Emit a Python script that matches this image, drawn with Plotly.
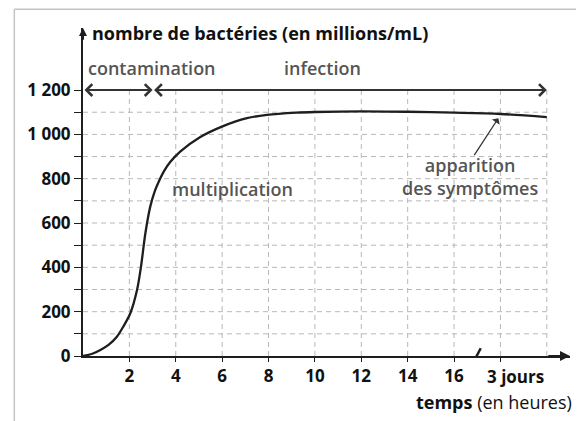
import plotly.graph_objects as go

# ---- data ----
hours = [0, 0.4, 0.75, 1.1, 1.46, 1.75, 2.04, 2.33, 2.5, 2.69, 2.9, 3.1, 3.26, 3.5, 3.76, 4.19,
         5.06, 5.99, 7.07, 7.93, 9.2, 10, 12, 14, 16, 18, 20]
bacteria = [0, 10, 27, 50, 87, 135, 193, 298, 403, 554, 674, 745, 785, 835, 875, 922,
            988, 1035, 1073, 1088, 1098, 1101, 1104, 1102, 1098, 1092, 1078]

x_tick_vals = [2, 4, 6, 8, 10, 12, 14, 16, 18]
x_tick_text = ["2", "4", "6", "8", "10", "12", "14", "16", ""]
day_tick = 18
day_label = "3 jours"
y_tick_vals = [0, 200, 400, 600, 800, 1000, 1200]
y_tick_text = ["0", "200", "400", "600", "800", "1 000", "1 200"]
y_minor_vals = [100, 300, 500, 700, 900, 1100]

grid_x = [2, 4, 6, 8, 10, 12, 14, 16, 18, 20]
grid_y = [100, 200, 300, 400, 500, 600, 700, 800, 900, 1000, 1100]

phase_names = ["contamination", "infection"]
phase_start = [0, 3]
phase_end = [3, 20]
phase_label_x = [2.99, 10.34]
phase_level = 1200
phase_label_y = 1300

X_MAX = 21
Y_MAX = 1480

# ---- layout geometry (page has an 8px body margin) ----
PX_X = 23.2      # px per hour
PX_Y = 0.2215    # px per unit
ORIG_X = 82.7    # target x pixel of x=0
ORIG_Y = 356.0   # target y pixel of y=0
BODY = 8
W = X_MAX * PX_X
H = Y_MAX * PX_Y
L = ORIG_X - BODY
T = ORIG_Y - H - BODY
B = 421 - (ORIG_Y - BODY)
R = 584 - L - W


def px_x(p):
    return (p - ORIG_X) / W


def px_y(p):
    return (ORIG_Y - p) / H


FONT = "Open Sans"
DARK = "#1e1e1e"
GREY_TXT = "#555555"
GRID = "#b8b8b8"

fig = go.Figure()

fig.add_trace(go.Scatter(
    x=hours, y=bacteria, mode="lines",
    line=dict(color=DARK, width=2.3, shape="spline", smoothing=0.9),
    hoverinfo="skip", showlegend=False,
))

shapes = []
for gx in grid_x:
    shapes.append(dict(type="line", xref="x", yref="y", x0=gx, x1=gx, y0=0, y1=phase_level,
                       line=dict(color=GRID, width=1, dash="5px,4px"), layer="below"))
for gy in grid_y:
    shapes.append(dict(type="line", xref="x", yref="y", x0=0, x1=grid_x[-1], y0=gy, y1=gy,
                       line=dict(color=GRID, width=1, dash="5px,4px"), layer="below"))
# axis break mark
shapes.append(dict(type="line", xref="x", yref="y", x0=16.8, x1=17.15, y0=-35, y1=35,
                   line=dict(color=DARK, width=2.5)))
# outer frame (left, top, right)
fx0, fx1, fy1, fy0 = px_x(14), px_x(578), px_y(9.5), px_y(440)
frame_col = dict(color="#c4c4c4", width=1.5)
shapes.append(dict(type="line", xref="paper", yref="paper", x0=fx0, x1=fx0, y0=fy0, y1=fy1, line=frame_col))
shapes.append(dict(type="line", xref="paper", yref="paper", x0=fx0, x1=fx1, y0=fy1, y1=fy1, line=frame_col))
shapes.append(dict(type="line", xref="paper", yref="paper", x0=fx1, x1=fx1, y0=fy0, y1=fy1, line=frame_col))

annotations = []
# phase arrows
for s, e in zip(phase_start, phase_end):
    annotations.append(dict(x=e, y=phase_level, ax=s, ay=phase_level, xref="x", yref="y",
                            axref="x", ayref="y", text="", showarrow=True,
                            arrowside="end+start", arrowhead=4, startarrowhead=4,
                            arrowsize=1.15, startarrowsize=1.15, arrowwidth=2, arrowcolor="#333"))
for name, lx in zip(phase_names, phase_label_x):
    annotations.append(dict(x=lx, y=phase_label_y, xref="x", yref="y", text=name,
                            showarrow=False, xanchor="center", yanchor="middle",
                            font=dict(family=FONT, size=18, color=GREY_TXT, weight=600)))
# "3 jours" label next to its tick
annotations.append(dict(x=day_tick + 0.65, y=px_y(376), xref="x", yref="paper", text=day_label,
                        showarrow=False, xanchor="center", yanchor="middle",
                        font=dict(family=FONT, size=17, color="#111", weight=700)))
# axis arrowheads
annotations.append(dict(x=X_MAX, y=0, ax=X_MAX - 1, ay=0, xref="x", yref="y", axref="x", ayref="y",
                        text="", showarrow=True, arrowhead=2, arrowsize=1, arrowwidth=2,
                        arrowcolor=DARK))
annotations.append(dict(x=0, y=Y_MAX, ax=0, ay=Y_MAX - 60, xref="x", yref="y", axref="x", ayref="y",
                        text="", showarrow=True, arrowhead=2, arrowsize=0.8, arrowwidth=2,
                        arrowcolor=DARK))
# y title
annotations.append(dict(x=0.3, y=1458, xref="x", yref="y", text="nombre de bactéries (en millions/mL)",
                        showarrow=False, xanchor="left", yanchor="middle",
                        font=dict(family=FONT, size=18, color="#111", weight=700)))
# x title
annotations.append(dict(x=px_x(574), y=px_y(402), xref="paper", yref="paper",
                        text="<b>temps</b> (en heures)", showarrow=False,
                        xanchor="right", yanchor="middle",
                        font=dict(family=FONT, size=18, color="#111", weight=500)))
# multiplication label
annotations.append(dict(x=6.46, y=754, xref="x", yref="y", text="multiplication",
                        showarrow=False, xanchor="center", yanchor="middle",
                        font=dict(family=FONT, size=18, color=GREY_TXT, weight=600)))
# symptoms arrow + label
annotations.append(dict(x=17.91, y=1073, ax=16.83, ay=900, xref="x", yref="y", axref="x", ayref="y",
                        text="", showarrow=True, arrowhead=1, arrowsize=1.2, arrowwidth=1.3,
                        arrowcolor="#333"))
annotations.append(dict(x=16.7, y=808, xref="x", yref="y", text="apparition<br>des symptômes",
                        showarrow=False, xanchor="center", yanchor="middle", align="center",
                        font=dict(family=FONT, size=18, color=GREY_TXT, weight=600)))

fig.update_layout(
    width=584, height=421,
    margin=dict(l=L, r=R, t=T, b=B, pad=0, autoexpand=False),
    paper_bgcolor="white", plot_bgcolor="white",
    shapes=shapes, annotations=annotations,
    showlegend=False,
    xaxis=dict(range=[0, X_MAX], showgrid=False, zeroline=False, automargin=False,
               showline=True, linecolor=DARK, linewidth=2,
               tickvals=x_tick_vals, ticktext=x_tick_text, tickangle=0,
               ticks="outside", ticklen=4, tickwidth=1.2, tickcolor=DARK,
               tickfont=dict(family=FONT, size=17, color="#111", weight=700)),
    yaxis=dict(range=[0, Y_MAX], showgrid=False, zeroline=False, automargin=False,
               showline=True, linecolor=DARK, linewidth=2,
               tickvals=y_tick_vals, ticktext=y_tick_text,
               ticks="outside", ticklen=7, tickwidth=1.2, tickcolor=DARK,
               minor=dict(tickvals=y_minor_vals, ticks="outside", ticklen=7, tickwidth=1.2, tickcolor=DARK),
               tickfont=dict(family=FONT, size=17, color="#111", weight=700)),
)

fig.write_html("out.html")
